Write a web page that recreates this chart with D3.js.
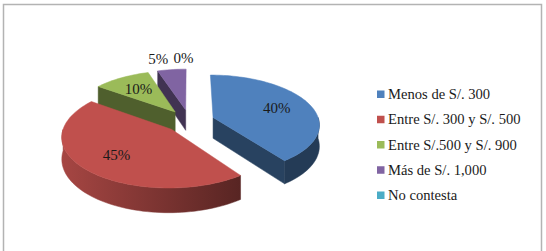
<!DOCTYPE html>
<html>
<head>
<meta charset="utf-8">
<script src="https://cdnjs.cloudflare.com/ajax/libs/d3/7.8.5/d3.min.js"></script>
<style>
  body { margin: 0; background: #fff; }
  svg { display: block; }
</style>
</head>
<body>
<div id="chart"></div>
<script>
// data
const categories = ["Menos de S/. 300", "Entre S/. 300 y S/. 500", "Entre S/.500 y S/. 900", "Más de S/. 1,000", "No contesta"];
const values = [40, 45, 10, 5, 0];
const valueLabels = ["40%", "45%", "10%", "5%", "0%"];
const colors = ["#4F81BD", "#C0504D", "#9BBB59", "#8064A2", "#4BACC6"];

const width = 546, height = 251;

// fake 3D pie: plane radius, tilt, perspective, depth, explosion
const R = 106, K = 0.46, P = 0.129, CX = 189.5, CY = 121, DEPTH = 21, EXPLODE = 25;

function proj(u, v, h) {
    const f = 1 / (1 + P * v / R);
    return [CX + u * f, CY - v * K * f + h * f];
}

const svg = d3.select('#chart')
    .append('svg')
    .attr('width', width)
    .attr('height', height);

// frame
svg.append('rect')
    .attr('x', 3.5).attr('y', 4.5)
    .attr('width', 538).attr('height', 252)
    .attr('fill', 'none')
    .attr('stroke', '#b3b3b3')
    .attr('stroke-width', 1.5);

const defs = svg.append('defs');

const pie = d3.pie().sort(null).value(d => d)
    .startAngle(0).endAngle(2 * Math.PI);
const arcs = pie(values).map((d, i) => {
    const mid = (d.startAngle + d.endAngle) / 2;
    return { ...d, i, mid, ox: EXPLODE * Math.sin(mid), oy: EXPLODE * Math.cos(mid) };
});

const line = d3.line();

function rimPoint(s, a, h) {
    return proj(s.ox + R * Math.sin(a), s.oy + R * Math.cos(a), h);
}
function arcPoints(s, a0, a1, h) {
    const n = Math.max(2, Math.ceil((a1 - a0) / (Math.PI / 90)));
    return d3.range(n + 1).map(j => rimPoint(s, a0 + (a1 - a0) * j / n, h));
}

arcs.forEach(s => {
    const c = colors[s.i];
    const g = defs.append('linearGradient')
        .attr('id', 'wall' + s.i)
        .attr('gradientUnits', 'userSpaceOnUse')
        .attr('x1', 55).attr('x2', 240).attr('y1', 0).attr('y2', 0);
    g.append('stop').attr('offset', 0).attr('stop-color', d3.color(c).darker(0.35));
    g.append('stop').attr('offset', 1).attr('stop-color', d3.color(c).darker(2.2));
});

const plot = svg.append('g').attr('class', 'pie');

// back to front
const order = arcs.filter(s => s.endAngle - s.startAngle > 0)
    .sort((a, b) => Math.cos(b.mid) - Math.cos(a.mid));

order.forEach(s => {
    const c = colors[s.i];
    const g = plot.append('g');
    const apexT = proj(s.ox, s.oy, 0), apexB = proj(s.ox, s.oy, DEPTH);
    const side = d3.color(c).darker(1.9);

    // radial walls facing the viewer
    [[s.startAngle, Math.sin(s.startAngle) < -1e-6], [s.endAngle, Math.sin(s.endAngle) > 1e-6]]
        .forEach(([a, visible]) => {
            if (!visible) return;
            g.append('path')
                .attr('d', line([apexT, rimPoint(s, a, 0), rimPoint(s, a, DEPTH), apexB]) + 'Z')
                .attr('fill', side)
                .attr('stroke', side).attr('stroke-width', 0.5);
        });

    // outer wall, front half only
    const w0 = Math.max(s.startAngle, Math.PI / 2), w1 = Math.min(s.endAngle, 3 * Math.PI / 2);
    if (w1 > w0) {
        const pts = arcPoints(s, w0, w1, 0).concat(arcPoints(s, w0, w1, DEPTH).reverse());
        g.append('path')
            .attr('d', line(pts) + 'Z')
            .attr('fill', `url(#wall${s.i})`)
            .attr('stroke', `url(#wall${s.i})`).attr('stroke-width', 0.5);
    }

    // top face
    const top = [apexT].concat(arcPoints(s, s.startAngle, s.endAngle, 0));
    g.append('path')
        .attr('d', line(top) + 'Z')
        .attr('fill', c)
        .attr('stroke', c).attr('stroke-width', 0.5);
});

// data labels
const labelG = svg.append('g')
    .attr('font-family', '"Liberation Serif", "Times New Roman", serif')
    .attr('font-size', 15)
    .attr('fill', '#1a1a1a');

arcs.forEach(s => {
    const outside = values[s.i] < 8;
    const r = outside ? 1.3 * R : 0.66 * R;
    const p = proj(s.ox + r * Math.sin(s.mid), s.oy + r * Math.cos(s.mid), 0);
    const anchor = outside ? (Math.sin(s.mid) < 0.01 ? 'end' : 'start') : 'middle';
    labelG.append('text')
        .attr('x', p[0] + (values[s.i] === 0 ? 4 : 0)).attr('y', p[1])
        .attr('dominant-baseline', 'central')
        .attr('text-anchor', anchor)
        .text(valueLabels[s.i]);
});

// legend
const rowY = d3.scalePoint().domain(categories).range([94, 195]);
const legend = svg.append('g')
    .attr('font-family', '"Liberation Serif", "Times New Roman", serif')
    .attr('font-size', 14.6)
    .attr('fill', '#1a1a1a');

const rows = legend.selectAll('g')
    .data(categories)
    .enter()
    .append('g')
    .attr('transform', d => `translate(377, ${rowY(d)})`);

rows.append('rect')
    .attr('x', 0).attr('y', -3.5)
    .attr('width', 7.5).attr('height', 7.5)
    .attr('fill', (d, i) => colors[i]);

rows.append('text')
    .attr('x', 11).attr('y', 0)
    .attr('dominant-baseline', 'central')
    .text(d => d);
</script>
</body>
</html>
